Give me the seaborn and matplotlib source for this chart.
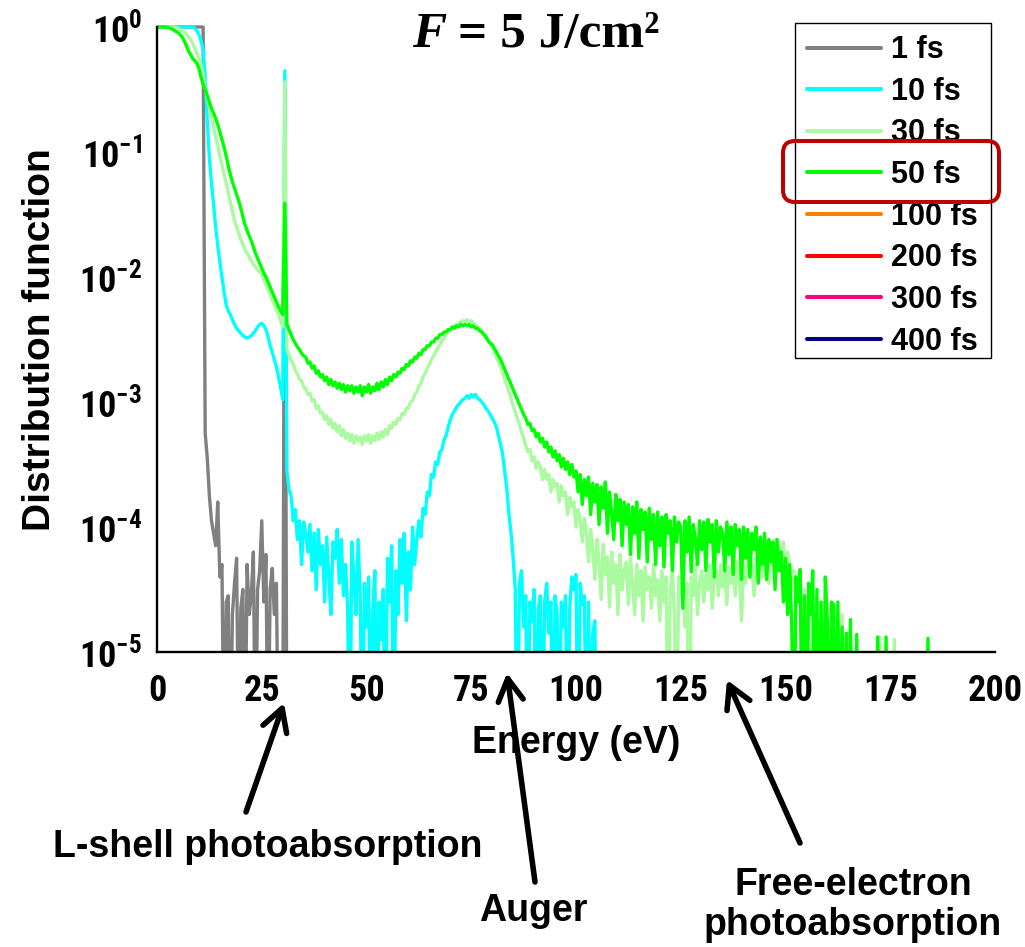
import os
import numpy as np
import pandas as pd
import matplotlib
matplotlib.use("Agg")
import matplotlib.pyplot as plt
import seaborn as sns
from matplotlib import font_manager
from matplotlib.font_manager import FontProperties
from matplotlib.lines import Line2D
from matplotlib.patches import FancyBboxPatch, Rectangle
from matplotlib.transforms import Bbox, TransformedBbox, IdentityTransform
from matplotlib.ticker import MultipleLocator, LogLocator, NullFormatter

# Energy bins (eV) of the electron distribution histograms
STEP = 0.5

delays = ["1 fs", "10 fs", "30 fs", "50 fs", "100 fs", "200 fs", "300 fs", "400 fs"]
colors = ["#808080", "#00FFFF", "#AAFAA0", "#00FF00",
          "#FF8000", "#FF0000", "#FF0080", "#000080"]

# log10 of the distribution function per bin, starting at 0 eV; -6 marks an empty bin
logf_1fs = [
    0, 0, 0, 0, 0, 0, 0, 0, 0, 0, 0, 0, 0, 0, 0, 0, 0, 0, 0, 0,
    0, 0, 0, -3.25, -3.45, -3.75, -3.95, -4.05, -4.15, -3.80, -4.40, -4.30, -6, -4.60, -4.55, -6, -4.70, -4.45, -4.25, -6,
    -4.65, -4.50, -6, -4.30, -4.70, -4.55, -4.20, -6, -4.50, -4.35, -3.95, -4.60, -4.22, -6, -4.50, -4.33, -4.70, -4.45, -6, -6,
    -6, -0.5, -6,
]

logf_10fs = [
    0, 0, 0, 0, 0, 0, 0, 0, 0, 0, 0, 0, 0, 0, 0, 0, 0, 0, -0.01, -0.03,
    -0.06, -0.11, -0.18, -0.40, -0.75, -1.05, -1.25, -1.42, -1.60, -1.75, -1.88, -2.00, -2.12, -2.22, -2.27, -2.30, -2.34, -2.38, -2.41, -2.43,
    -2.45, -2.47, -2.48, -2.49, -2.48, -2.47, -2.45, -2.43, -2.40, -2.38, -2.37, -2.39, -2.42, -2.48, -2.55, -2.60, -2.66, -2.72, -2.80, -2.88,
    -2.98, -0.35, -3.55, -3.70, -3.75, -3.95, -3.86, -4.10, -3.95, -4.30, -3.96, -4.05, -4.20, -3.98, -4.35, -4.05, -4.50, -4.02, -4.30, -4.15,
    -4.60, -4.08, -4.40, -4.70, -4.12, -4.25, -4.02, -4.45, -4.10, -4.55, -4.30, -4.65, -6, -4.12, -4.40, -4.70, -4.10, -4.55, -6, -4.45,
    -4.80, -4.40, -6, -4.65, -4.35, -6, -4.60, -4.90, -4.50, -6, -4.25, -4.60, -4.15, -6, -4.35, -4.70, -4.10, -4.45, -4.05, -4.75,
    -4.20, -4.50, -4.00, -4.30, -4.10, -3.95, -4.08, -3.85, -3.90, -3.72, -3.75, -3.58, -3.60, -3.48, -3.50, -3.40, -3.38, -3.30, -3.27, -3.20,
    -3.14, -3.10, -3.07, -3.04, -3.02, -3.00, -2.98, -2.97, -2.95, -2.97, -2.94, -2.96, -2.94, -2.97, -2.98, -3.00, -3.02, -3.05, -3.07, -3.10,
    -3.13, -3.16, -3.20, -3.27, -3.34, -3.42, -3.56, -3.70, -3.90, -4.05, -4.25, -4.50, -6, -4.45, -4.35, -4.80, -4.55, -6, -4.60, -4.75,
    -4.50, -6, -4.65, -4.55, -6, -4.60, -4.45, -4.85, -4.60, -6, -4.55, -4.70, -6, -4.60, -4.80, -4.55, -6, -4.65, -4.40, -4.50,
    -4.38, -6, -4.45, -4.62, -4.55, -6, -4.60, -6, -4.85, -4.75, -6,
]

logf_30fs = [
    0, 0, 0, 0, 0, 0, 0, 0, 0, -0.005, -0.01, -0.02, -0.03, -0.04, -0.06, -0.08, -0.10, -0.13, -0.17, -0.21,
    -0.25, -0.30, -0.38, -0.48, -0.56, -0.64, -0.72, -0.80, -0.88, -0.95, -1.03, -1.10, -1.18, -1.25, -1.33, -1.40, -1.48, -1.55, -1.60, -1.65,
    -1.70, -1.74, -1.78, -1.81, -1.84, -1.87, -1.90, -1.92, -1.94, -1.96, -1.98, -2.02, -2.06, -2.10, -2.14, -2.18, -2.22, -2.26, -2.30, -2.35,
    -2.40, -0.44, -2.58, -2.62, -2.67, -2.69, -2.75, -2.77, -2.82, -2.83, -2.88, -2.89, -2.94, -2.93, -2.99, -2.98, -3.05, -3.03, -3.09, -3.08,
    -3.14, -3.11, -3.18, -3.14, -3.21, -3.17, -3.24, -3.19, -3.27, -3.22, -3.29, -3.25, -3.31, -3.26, -3.33, -3.27, -3.31, -3.28, -3.34, -3.27,
    -3.31, -3.26, -3.33, -3.27, -3.31, -3.25, -3.30, -3.24, -3.28, -3.22, -3.26, -3.19, -3.21, -3.16, -3.18, -3.13, -3.14, -3.09, -3.10, -3.05,
    -3.05, -3.00, -2.99, -2.94, -2.92, -2.87, -2.85, -2.80, -2.77, -2.73, -2.70, -2.66, -2.63, -2.60, -2.57, -2.54, -2.51, -2.49, -2.46, -2.44,
    -2.42, -2.40, -2.39, -2.38, -2.37, -2.36, -2.35, -2.36, -2.34, -2.36, -2.35, -2.37, -2.38, -2.40, -2.41, -2.43, -2.45, -2.47, -2.50, -2.53,
    -2.57, -2.60, -2.64, -2.68, -2.72, -2.77, -2.82, -2.87, -2.92, -2.97, -3.03, -3.08, -3.13, -3.18, -3.24, -3.29, -3.35, -3.40, -3.38, -3.47,
    -3.44, -3.53, -3.48, -3.52, -3.62, -3.54, -3.62, -3.58, -3.72, -3.62, -3.68, -3.65, -3.80, -3.67, -3.75, -3.72, -3.90, -3.76, -3.84, -3.80,
    -4.00, -3.86, -3.95, -4.12, -3.93, -4.05, -4.28, -4.02, -4.18, -4.42, -4.10, -4.28, -4.58, -4.14, -4.38, -4.24, -4.64, -4.20, -4.45, -4.30,
    -4.70, -4.22, -4.50, -4.35, -4.28, -4.62, -4.25, -4.45, -4.70, -4.30, -4.55, -4.35, -4.75, -4.32, -4.50, -4.40, -4.65, -4.30, -4.55, -4.42,
    -4.75, -4.35, -4.60, -4.40, -6, -4.50, -4.35, -4.70, -6, -4.40, -4.55, -4.35, -4.80, -4.45, -6, -4.40, -4.55, -4.30, -4.70, -4.45,
    -4.35, -4.60, -4.38, -4.50, -4.30, -4.65, -4.40, -4.35, -4.55, -4.30, -4.48, -4.35, -4.62, -4.32, -4.45, -4.30, -4.55, -4.28, -4.40, -4.75,
    -4.30, -4.45, -4.25, -4.40, -4.30, -4.55, -4.25, -4.35, -4.20, -4.40, -4.30, -4.15, -4.45, -4.20, -4.30, -4.10, -4.35, -4.15, -4.25, -4.12,
    -4.40, -4.20, -4.30, -4.50, -4.35, -4.60, -4.40, -4.55, -4.70, -4.50, -4.80, -4.60, -6, -4.70, -4.85, -6, -4.75, -6, -4.85, -6,
    -4.80, -6, -6, -4.90, -6, -4.80, -6, -4.70, -6, -6, -4.85, -6, -6, -6, -6, -6, -6, -6, -6, -6,
    -6, -6, -6, -6, -6, -4.88, -6, -6, -6, -6, -6, -6, -4.90, -6,
]

logf_50fs = [
    0, 0, 0, 0, 0, -0.003, -0.008, -0.015, -0.025, -0.035, -0.045, -0.06, -0.08, -0.11, -0.15, -0.19, -0.22, -0.25, -0.27, -0.29,
    -0.33, -0.40, -0.46, -0.50, -0.55, -0.60, -0.65, -0.69, -0.73, -0.78, -0.84, -0.90, -0.96, -1.03, -1.11, -1.18, -1.24, -1.29, -1.34, -1.39,
    -1.45, -1.52, -1.58, -1.63, -1.67, -1.71, -1.76, -1.81, -1.85, -1.89, -1.93, -1.97, -2.00, -2.04, -2.08, -2.12, -2.16, -2.20, -2.24, -2.27,
    -2.30, -1.41, -2.38, -2.42, -2.46, -2.50, -2.53, -2.56, -2.58, -2.61, -2.63, -2.64, -2.69, -2.68, -2.73, -2.71, -2.77, -2.75, -2.80, -2.78,
    -2.83, -2.80, -2.86, -2.82, -2.87, -2.84, -2.89, -2.85, -2.90, -2.86, -2.92, -2.87, -2.91, -2.87, -2.93, -2.88, -2.92, -2.87, -2.95, -2.88,
    -2.92, -2.86, -2.93, -2.88, -2.91, -2.85, -2.90, -2.84, -2.88, -2.82, -2.86, -2.80, -2.83, -2.78, -2.80, -2.76, -2.77, -2.73, -2.74, -2.70,
    -2.71, -2.67, -2.68, -2.64, -2.65, -2.61, -2.62, -2.58, -2.58, -2.55, -2.55, -2.52, -2.52, -2.49, -2.49, -2.46, -2.46, -2.44, -2.44, -2.42,
    -2.42, -2.40, -2.41, -2.39, -2.40, -2.38, -2.39, -2.38, -2.39, -2.38, -2.40, -2.39, -2.41, -2.41, -2.43, -2.44, -2.46, -2.48, -2.51, -2.53,
    -2.54, -2.57, -2.60, -2.63, -2.66, -2.70, -2.74, -2.78, -2.82, -2.86, -2.90, -2.94, -2.98, -3.02, -3.06, -3.10, -3.13, -3.18, -3.17, -3.23,
    -3.22, -3.28, -3.25, -3.32, -3.29, -3.36, -3.32, -3.40, -3.36, -3.44, -3.39, -3.47, -3.42, -3.52, -3.45, -3.54, -3.48, -3.58, -3.50, -3.60,
    -3.55, -3.72, -3.58, -3.82, -3.62, -3.75, -3.60, -3.90, -3.65, -3.80, -3.66, -3.98, -3.68, -3.85, -3.64, -4.05, -3.72, -3.88, -4.10, -3.74,
    -3.95, -3.78, -4.15, -3.80, -3.98, -3.82, -4.22, -3.84, -4.05, -3.80, -4.25, -3.86, -4.02, -3.88, -4.28, -3.85, -4.10, -3.90, -4.30, -3.88,
    -4.15, -3.92, -4.32, -3.90, -4.05, -3.95, -4.35, -3.92, -4.12, -3.96, -4.00, -4.65, -3.95, -4.20, -3.92, -4.36, -3.98, -4.10, -4.30, -3.95,
    -4.18, -3.96, -4.35, -3.94, -4.12, -3.98, -4.40, -3.95, -4.20, -4.00, -4.05, -4.35, -3.96, -4.22, -4.00, -4.38, -3.98, -4.15, -4.02, -4.42,
    -4.00, -4.25, -4.02, -4.40, -4.05, -4.18, -4.00, -4.45, -4.08, -4.30, -4.05, -4.42, -4.10, -4.28, -4.12, -4.50, -4.10, -4.35, -4.20, -4.60,
    -4.25, -4.70, -4.30, -4.80, -6, -4.40, -4.60, -4.34, -6, -4.55, -6, -4.45, -4.70, -4.35, -6, -4.50, -6, -4.60, -6, -4.40,
    -4.75, -6, -4.60, -4.62, -6, -4.60, -6, -4.80, -6, -4.85, -6, -4.74, -6, -6, -4.86, -6, -6, -6, -6, -6,
    -6, -6, -6, -6, -4.88, -6, -6, -6, -4.88, -6, -6, -6, -6, -6, -6, -6, -6, -6, -6, -6,
    -6, -6, -6, -6, -6, -6, -6, -6, -4.89, -6,
]

series = {"1 fs": logf_1fs, "10 fs": logf_10fs, "30 fs": logf_30fs, "50 fs": logf_50fs}

frames = []
for name, vals in series.items():
    v = np.asarray(vals, dtype=float)
    frames.append(pd.DataFrame({"Energy": STEP * np.arange(len(v)),
                                "f": 10.0 ** v,
                                "Delay": name}))
df = pd.concat(frames, ignore_index=True)

# ---- fonts -------------------------------------------------------------
sns.set_style("white")
SANS = "Liberation Sans"
SERIF = "Liberation Serif"
plt.rcParams["font.family"] = [SANS, "DejaVu Sans"]
plt.rcParams["font.weight"] = "bold"
for key in ["text.color", "axes.labelcolor", "xtick.color", "ytick.color", "axes.edgecolor"]:
    plt.rcParams[key] = "black"


def narrow_bold_font():
    """A bold narrow sans face for the tick numbers, if one is installed."""
    preferred = ["liberationsansnarrowbold.ttf", "arialnarrowbold.ttf",
                 "robotocondensedbold.ttf", "notosanscondensedbold.ttf",
                 "opensanscondensedbold.ttf", "notosanssemicondensedbold.ttf",
                 "opensanssemicondensedbold.ttf"]
    found = {}
    for e in font_manager.fontManager.ttflist:
        base = os.path.basename(e.fname).lower().replace("_", "").replace("-", "")
        found.setdefault(base, e.fname)
    for name in preferred:
        if name in found:
            return found[name]
    return None


narrow_file = narrow_bold_font()
if narrow_file:
    tick_fp = FontProperties(fname=narrow_file, size=26)
else:
    tick_fp = FontProperties(family=SANS, weight="bold", size=23)

W, H = 1025, 947
fig = plt.figure(figsize=(W / 100, H / 100), dpi=100)
ax = fig.add_axes([157 / W, 1 - 652 / H, (995 - 157) / W, (652 - 27) / H])

sns.lineplot(data=df, x="Energy", y="f", hue="Delay", hue_order=delays[:4],
             palette=colors[:4], estimator=None, sort=False, legend=False,
             linewidth=2.4, ax=ax)

ax.set_yscale("log")
ax.set_xlim(0, 200)
ax.set_ylim(1e-5, 1)

clip = TransformedBbox(Bbox([[0, 0], [1.01, 1.03]]), ax.transAxes)
for ln in ax.lines:
    ln.set_clip_box(clip)

# ---- axes styling --------------------------------------------------------
for s in ["top", "right"]:
    ax.spines[s].set_visible(False)
for s in ["left", "bottom"]:
    ax.spines[s].set_linewidth(1.7)
    ax.spines[s].set_color("black")

ax.xaxis.set_major_locator(MultipleLocator(25))
ax.xaxis.set_minor_locator(MultipleLocator(12.5))
ax.yaxis.set_major_locator(LogLocator(base=10, numticks=10))
ax.yaxis.set_minor_locator(LogLocator(base=10, subs=np.arange(2, 10), numticks=10))
ax.yaxis.set_minor_formatter(NullFormatter())

ax.tick_params(axis="both", which="both", direction="out", color="black",
               labelcolor="black", width=1.7)
ax.tick_params(axis="x", which="major", length=9, pad=6)
ax.tick_params(axis="x", which="minor", length=3.6)
ax.tick_params(axis="y", which="major", length=7.7, pad=3)
ax.tick_params(axis="y", which="minor", length=3.6)

for lab in ax.get_xticklabels() + ax.get_yticklabels():
    lab.set_fontproperties(tick_fp)

ax.set_xlabel("Energy (eV)", fontsize=27, fontweight="bold", family=SANS, color="black")
ax.set_ylabel("Distribution function", fontsize=28, fontweight="bold", family=SANS,
              color="black")
ax.xaxis.set_label_coords(0.5, -0.117)
ax.yaxis.set_label_coords(-0.118, 0.5)

# ---- legend ---------------------------------------------------------------
handles = [Line2D([], [], color=c, lw=2.9) for c in colors]
leg = ax.legend(handles, delays, loc="upper left",
                bbox_to_anchor=(795 / W, 1 - 23 / H), bbox_transform=fig.transFigure,
                frameon=False,
                prop=FontProperties(family=SANS, weight="bold", size=22),
                handlelength=2.4, handletextpad=0.35, labelspacing=0.38,
                borderpad=0.40, borderaxespad=0)
for t in leg.get_texts():
    t.set_color("black")

# legend frame (pixel coordinates, origin bottom-left)
frame = Rectangle((795, H - 358), 991 - 795, 358 - 23, transform=IdentityTransform(),
                  fill=False, edgecolor="black", linewidth=1.0, zorder=9)
fig.add_artist(frame)

# highlight box around the 50 fs entry
hl = FancyBboxPatch((783, H - 202), 999 - 783, 202 - 141,
                    boxstyle="round,pad=0,rounding_size=12",
                    transform=IdentityTransform(), fill=False,
                    edgecolor="#BF0000", linewidth=2.9, zorder=10)
fig.add_artist(hl)

# ---- fluence title ----------------------------------------------------------
fig.text(412 / W, 1 - 47 / H, "F", family=SERIF, style="italic", weight="bold",
         fontsize=37, ha="left", va="baseline", color="black")
fig.text(458 / W, 1 - 47 / H, "= 5 J/cm\u00b2", family=SERIF, weight="bold",
         fontsize=37, ha="left", va="baseline", color="black")

# ---- process annotations -------------------------------------------------------
arrow_kw = dict(arrowstyle="->,head_length=0.8,head_width=0.45", lw=4,
                color="black", shrinkA=0, shrinkB=0, mutation_scale=20)
arrows = [((284, 703), (246, 812)),
          ((507, 673), (535, 882)),
          ((727, 680), (800, 843))]
for tip, tail in arrows:
    ax.annotate("", xy=(tip[0], H - tip[1]), xytext=(tail[0], H - tail[1]),
                xycoords="figure pixels", textcoords="figure pixels",
                arrowprops=arrow_kw, annotation_clip=False)

note_kw = dict(fontsize=27, fontweight="bold", family=SANS, ha="center",
               va="center", color="black")
fig.text(268 / W, 1 - 847 / H, "L-shell photoabsorption", **note_kw)
fig.text(533 / W, 1 - 911 / H, "Auger", **note_kw)
fig.text(853 / W, 1 - 905 / H, "Free-electron\nphotoabsorption", linespacing=1.15, **note_kw)

fig.savefig("out.png", dpi=100)
